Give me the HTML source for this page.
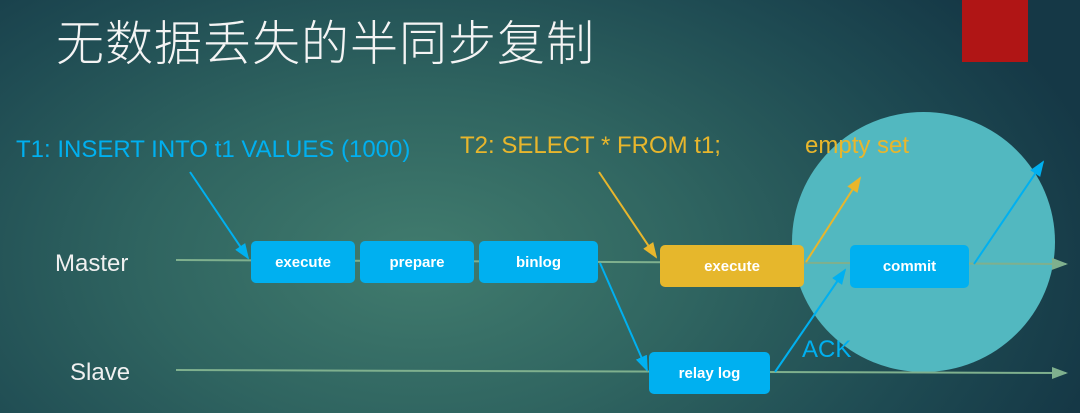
<!DOCTYPE html>
<html><head><meta charset="utf-8"><style>
html,body{margin:0;padding:0}
body{width:1080px;height:413px;overflow:hidden;position:relative;
background:radial-gradient(ellipse 700px 420px at 420px 260px,#417c6e 0%,#2f6460 40%,#1e4a52 75%,#153846 100%);
font-family:"Liberation Sans","Noto Sans CJK SC",sans-serif}
.t{position:absolute;white-space:nowrap}
.box{position:absolute;background:#00b0f0;color:#fff;font-weight:bold;font-size:15px;display:flex;align-items:center;justify-content:center;border-radius:5px}
</style></head><body>
<div style="position:absolute;left:962px;top:0;width:66px;height:62px;background:#b01515"></div>
<div class="t" style="left:56px;top:4px;font-size:48px;color:#f4f4f4;font-family:'Noto Sans CJK SC',sans-serif;font-weight:300;letter-spacing:1px">无数据丢失的半同步复制</div>
<div style="position:absolute;left:792px;top:112px;width:263px;height:260px;border-radius:50%;background:#52b8c0"></div>
<svg width="1080" height="413" style="position:absolute;left:0;top:0">
<defs>
<marker id="g" markerWidth="8" markerHeight="8" refX="7" refY="4" orient="auto"><path d="M0,1 L8,4 L0,7z" fill="#7fb08e"/></marker>
<marker id="b" markerWidth="8" markerHeight="8" refX="7" refY="4" orient="auto"><path d="M0,1 L8,4 L0,7z" fill="#00b0f0"/></marker>
<marker id="y" markerWidth="8" markerHeight="8" refX="7" refY="4" orient="auto"><path d="M0,1 L8,4 L0,7z" fill="#e8b62c"/></marker>
</defs>
<line x1="176" y1="260" x2="1066" y2="264" stroke="#7fb08e" stroke-width="2" marker-end="url(#g)"/>
<line x1="176" y1="370" x2="1066" y2="373" stroke="#7fb08e" stroke-width="2" marker-end="url(#g)"/>
<line x1="190" y1="172" x2="248" y2="258" stroke="#00b0f0" stroke-width="2" marker-end="url(#b)"/>
<line x1="600" y1="263" x2="647" y2="370" stroke="#00b0f0" stroke-width="2" marker-end="url(#b)"/>
<line x1="775" y1="372" x2="845" y2="270" stroke="#00b0f0" stroke-width="2" marker-end="url(#b)"/>
<line x1="974" y1="264" x2="1043" y2="162" stroke="#00b0f0" stroke-width="2" marker-end="url(#b)"/>
<line x1="599" y1="172" x2="656" y2="257" stroke="#e8b62c" stroke-width="2" marker-end="url(#y)"/>
<line x1="806" y1="262" x2="860" y2="178" stroke="#e8b62c" stroke-width="2" marker-end="url(#y)"/>
</svg>
<div class="t" style="left:16px;top:136px;font-size:24px;color:#00b0f0">T1: INSERT INTO t1 VALUES (1000)</div>
<div class="t" style="left:460px;top:132px;font-size:24px;color:#e8b62c">T2: SELECT * FROM t1;</div>
<div class="t" style="left:805px;top:132px;font-size:24px;color:#e8b62c">empty set</div>
<div class="t" style="left:802px;top:336px;font-size:24px;color:#00b0f0">ACK</div>
<div class="t" style="left:55px;top:250px;font-size:24px;color:#f0f0f0">Master</div>
<div class="t" style="left:70px;top:359px;font-size:24px;color:#f0f0f0">Slave</div>
<div class="box" style="left:251px;top:241px;width:104px;height:42px">execute</div>
<div class="box" style="left:360px;top:241px;width:114px;height:42px">prepare</div>
<div class="box" style="left:479px;top:241px;width:119px;height:42px">binlog</div>
<div class="box" style="left:660px;top:245px;width:144px;height:42px;background:#e6b72c">execute</div>
<div class="box" style="left:850px;top:245px;width:119px;height:43px">commit</div>
<div class="box" style="left:649px;top:352px;width:121px;height:42px">relay log</div>
</body></html>
